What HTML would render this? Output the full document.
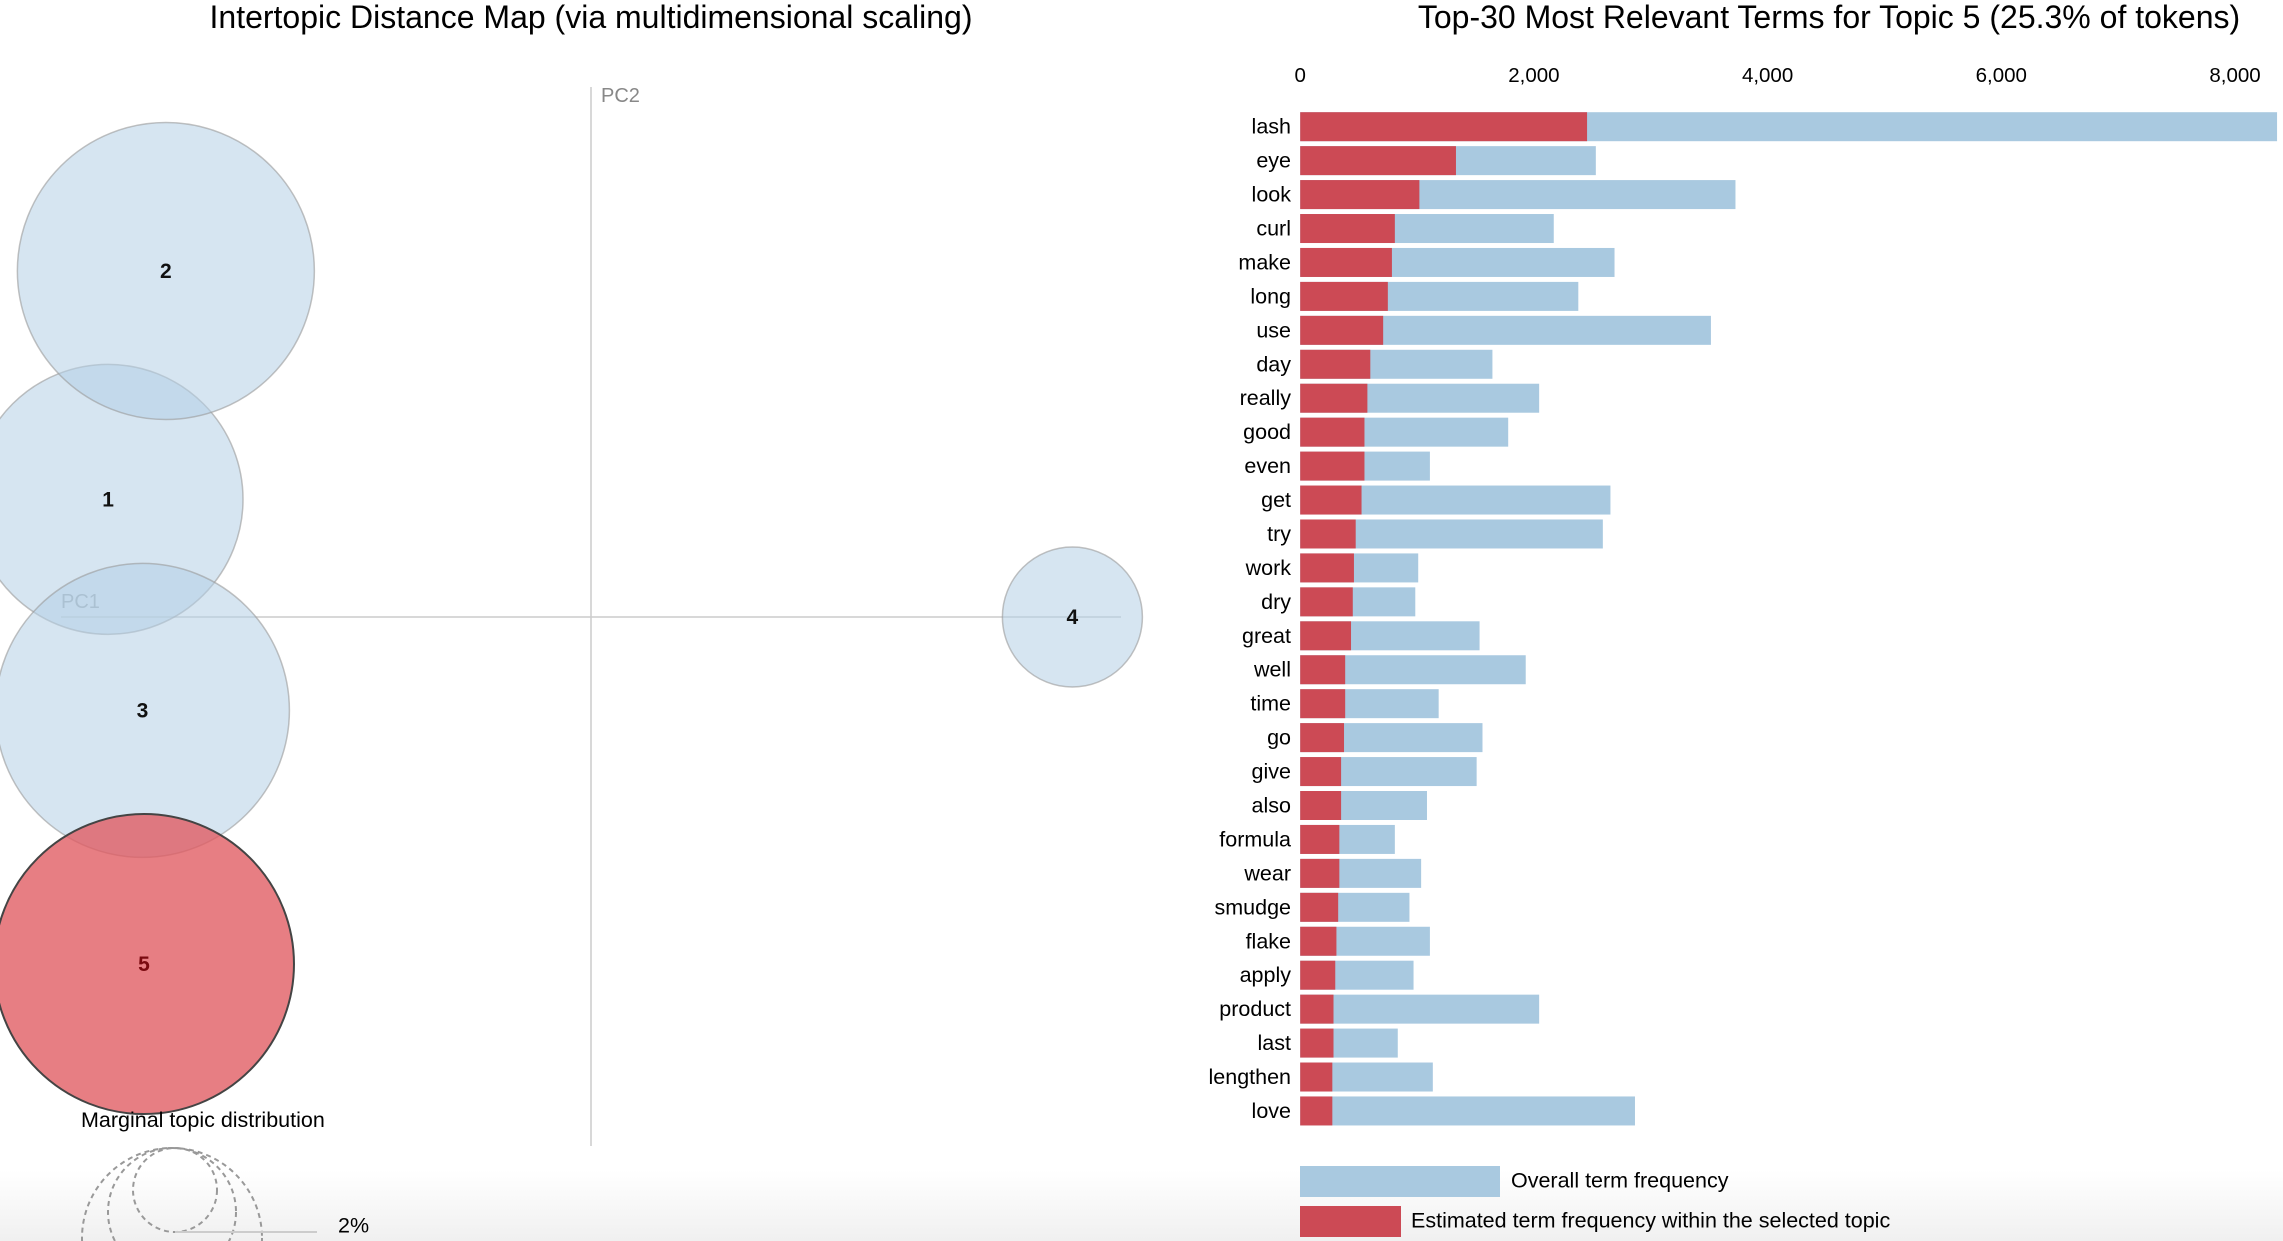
<!DOCTYPE html>
<html><head><meta charset="utf-8"><style>
html,body{margin:0;background:#fff;font-family:"Liberation Sans",sans-serif;overflow:hidden;width:2283px;height:1241px}
svg{display:block;overflow:hidden}
</style></head><body>
<svg id="chart" width="2283" height="1241">
<defs><linearGradient id="bg" x1="0" y1="0" x2="0" y2="1"><stop offset="0" stop-color="#fff"/><stop offset="1" stop-color="#f0f0f0"/></linearGradient>
<clipPath id="clip"><rect x="0" y="0" width="2283" height="1241"/></clipPath></defs>
<rect x="0" y="1170" width="2283" height="71" fill="url(#bg)"/>
<text x="591" y="28" font-size="32" text-anchor="middle">Intertopic Distance Map (via multidimensional scaling)</text>
<text x="1829" y="28" font-size="32" text-anchor="middle">Top-30 Most Relevant Terms for Topic 5 (25.3% of tokens)</text>
<line x1="591" y1="87" x2="591" y2="1146" stroke="#ccc" stroke-width="1.5"/>
<line x1="61" y1="617" x2="1121" y2="617" stroke="#ccc" stroke-width="1.5"/>
<text x="601" y="102" font-size="20" fill="#888">PC2</text>
<text x="61" y="608" font-size="20" fill="#888">PC1</text>
<g id="topics"></g>
<text x="81" y="1127" font-size="21.5">Marginal topic distribution</text>
<g clip-path="url(#clip)" fill="none" stroke="#999" stroke-width="2" stroke-dasharray="5,4">
<circle cx="175" cy="1190" r="42"/><circle cx="172" cy="1212" r="64"/><circle cx="172" cy="1238" r="90"/>
</g>
<line x1="175" y1="1232" x2="317" y2="1232" stroke="#ccc" stroke-width="2"/>
<text x="338" y="1227" font-size="21.5" dominant-baseline="middle">2%</text>
<g id="bars"></g>
<rect x="1300" y="1166" width="200" height="31" fill="#a9c9e0"/>
<text x="1511" y="1182" font-size="21.5" dominant-baseline="middle">Overall term frequency</text>
<rect x="1300" y="1206" width="101" height="31" fill="#cc4a55"/>
<text x="1411" y="1222" font-size="21.5" dominant-baseline="middle">Estimated term frequency within the selected topic</text>
</svg>
<script>
const terms=["lash","eye","look","curl","make","long","use","day","really","good","even","get","try","work","dry","great","well","time","go","give","also","formula","wear","smudge","flake","apply","product","last","lengthen","love"];
const overall=[8360,2530,3725,2170,2690,2380,3515,1645,2045,1780,1110,2655,2590,1010,985,1535,1930,1185,1560,1510,1085,810,1035,935,1110,970,2045,835,1135,2865];
const topicFreq=[2455,1333,1020,810,785,750,710,600,575,550,550,525,475,460,450,435,385,385,375,350,350,335,335,325,310,300,285,285,275,275];
const ticks=[0,2000,4000,6000,8000];
const topicIds=["1","2","3","4","5"];
const topicX=[-0.309,-0.272,-0.287,0.308,-0.286];
const topicY=[0.068,0.200,-0.054,0.000,-0.2006];
const topicR=[135,148.5,147,70,150];
const NS="http://www.w3.org/2000/svg";
function mk(t,a,p){const e=document.createElementNS(NS,t);for(const k in a)e.setAttribute(k,a[k]);p.appendChild(e);return e;}
const xs=v=>1300.2+v*0.11685;
const ys=i=>126.7+i*33.94;
const bars=document.getElementById('bars');
ticks.forEach(t=>{const e=mk('text',{x:xs(t),y:82,'font-size':20.5,'text-anchor':'middle'},bars);e.textContent=t.toLocaleString('en-US');

});
terms.forEach((t,i)=>{
const b=mk('rect',{x:xs(0),y:ys(i)-14.5,width:xs(overall[i])-xs(0),height:29,fill:'#a9c9e0'},bars);


const r=mk('rect',{x:xs(0),y:ys(i)-14.5,width:xs(topicFreq[i])-xs(0),height:29,fill:'#cc4a55'},bars);


const l=mk('text',{x:1291,y:ys(i)+7,'font-size':21.5,'text-anchor':'end'},bars);l.textContent=t;


});
const g=document.getElementById('topics');
const px=v=>591+v*1563, py=v=>617-v*1730;
topicIds.forEach((id,i)=>{
const sel=id==="5";
const c=mk('circle',{cx:px(topicX[i]),cy:py(topicY[i]),r:topicR[i],fill:sel?'#e05a60':'#b4cfe6','fill-opacity':sel?0.78:0.55,stroke:sel?'#444':'#999','stroke-opacity':sel?1:0.6,'stroke-width':sel?2:1.5},g);


});
topicIds.forEach((id,i)=>{
const t=mk('text',{x:px(topicX[i]),y:py(topicY[i])+7,'font-size':21,'font-weight':'bold','text-anchor':'middle',fill:id==="5"?'#7a0a10':'#111'},g);t.textContent=id;


});
</script>
</body></html>
